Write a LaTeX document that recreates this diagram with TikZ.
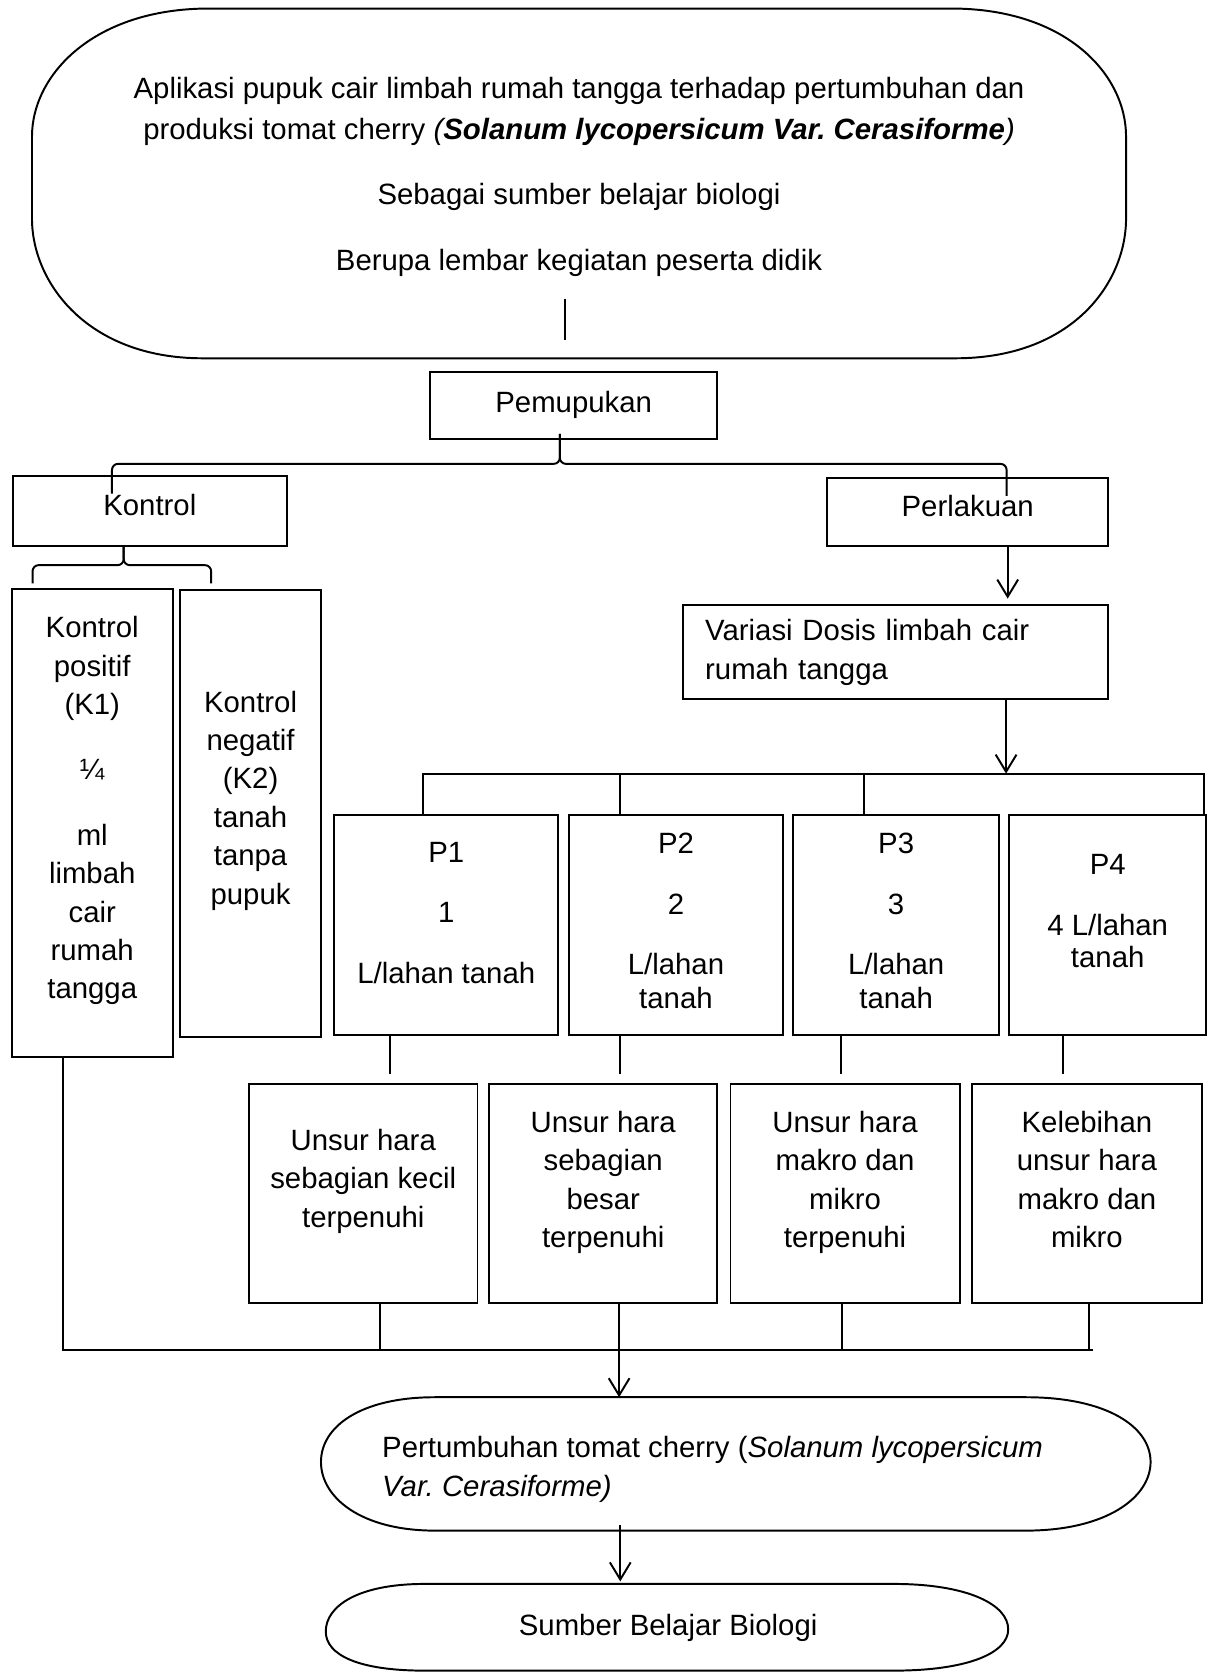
\documentclass[tikz,border=0pt]{standalone}
\usepackage{fontspec}
\setmainfont{Liberation Sans}
\usepackage{tikz}
\usetikzlibrary{arrows.meta}
\usetikzlibrary{positioning}
\frenchspacing

\newcommand{\ganjal}[1]{\rule[-#1]{0pt}{#1}}

\tikzset{
  garis/.style={line width=0.8pt},
  kotak/.style={draw, line width=0.8pt, inner sep=0pt, align=center},
  panah/.style={line width=0.8pt, -{Straight Barb[length=7pt,width=8.5pt]}},
}

\begin{document}
\begin{tikzpicture}[x=0.436pt,y=-0.436pt,font=\fontsize{12}{15.7}\selectfont]
        \useasboundingbox (0,0) rectangle (1138,1568);

        \draw[garis] (196,8) -- (892,8) .. controls (1000,8) and (1056,70) .. (1056,128) -- (1056,205) .. controls (1056,265) and (1006,336) .. (896,336) -- (190,336) .. controls (82,336) and (30,265) .. (30,205) -- (30,128) .. controls (30,70) and (88,8) .. (196,8) -- cycle;
        \node[align=center, font=\fontsize{12}{16.6}\selectfont] (judul) at (543,166) {Aplikasi pupuk cair limbah rumah tangga terhadap pertumbuhan dan\\ produksi tomat cherry \textit{(\textbf{Solanum lycopersicum Var. Cerasiforme})}\\[10.3pt] Sebagai sumber belajar biologi\\[10.3pt] Berupa lembar kegiatan peserta didik};
        \coordinate (garis-judul) at (530,280);
        \draw[garis] (garis-judul) -- ++(0,39);

        \node[kotak, minimum width=117.3pt, minimum height=27.5pt] (pupuk) at (538,380) {Pemupukan};
        \node[kotak, minimum width=112.1pt, minimum height=28.8pt] (kontrol) at (140.5,479) {Kontrol\ganjal{5pt}};
        \node[kotak, minimum width=114.9pt, minimum height=28pt] (perlakuan) at (907.5,480) {Perlakuan\ganjal{5pt}};

        \coordinate (kurung-atas) at (525,435);
        \coordinate (puncak-pupuk) at ([xshift=-13*0.436pt,yshift=2.4pt]pupuk.south);
        \coordinate (ujung-kontrol) at (105,463);
        \coordinate (ujung-perlakuan) at (944,465);
        \draw[garis, rounded corners=2.5pt] (puncak-pupuk) -- (kurung-atas) -| (ujung-kontrol);
        \draw[garis, rounded corners=2.5pt] (puncak-pupuk) -- (kurung-atas) -| (ujung-perlakuan);

        \node[kotak, minimum width=65.8pt, minimum height=191.7pt] (k1) at (86.5,771.8) {Kontrol\\positif\\(K1)\\[11pt]¼\\[11pt]ml\\limbah\\cair\\rumah\\tangga\ganjal{12.5pt}};
        \node[kotak, minimum width=57.6pt, minimum height=182.9pt] (k2) at (235,762.8) {Kontrol\\negatif\\(K2)\\tanah\\tanpa\\pupuk\ganjal{13pt}};

        \coordinate (kurung-bawah) at (116,530);
        \coordinate (ujung-k1) at (30.5,547);
        \coordinate (ujung-k2) at (198,547);
        \draw[garis, rounded corners=2.5pt] (kontrol.south -| kurung-bawah) -- (kurung-bawah) -| (ujung-k1);
        \draw[garis, rounded corners=2.5pt] (kontrol.south -| kurung-bawah) -- (kurung-bawah) -| (ujung-k2);

        \node[kotak, align=left, text width=155.8pt, inner xsep=9pt, minimum height=38.5pt] (variasi) at (840,611.7) {Variasi Dosis limbah cair\\rumah tangga};
        \draw[panah, shorten >=2.3pt] (perlakuan.south -| 945,0) -- (variasi.north -| 945,0);

        \node[kotak, minimum width=91.6pt, minimum height=90pt] (p1) at (418.5,867.8) {P1\\[9pt]1\\[9pt]L/lahan tanah\ganjal{10.4pt}};
        \node[kotak, minimum width=87.3pt, minimum height=90pt] (p2) at (633.9,867.8) {P2\\[9pt]2\\[9pt]L/lahan\\[-2pt]tanah\ganjal{3.7pt}};
        \node[kotak, minimum width=84.3pt, minimum height=90pt] (p3) at (840.4,867.8) {P3\\[9pt]3\\[9pt]L/lahan\\[-2pt]tanah\ganjal{3.7pt}};
        \node[kotak, minimum width=80.4pt, minimum height=90pt] (p4) at (1038.8,867.8) {P4\\[9.4pt]4 L/lahan\\[-2.5pt]tanah\ganjal{11.7pt}};

        \coordinate (bar-kiri) at (396.5,725.5);
        \coordinate (bar-kanan) at (1129,725.5);
        \draw[panah] (variasi.south -| 943.5,0) -- (bar-kiri -| 943.5,0);
        \draw[garis] (p1.north -| bar-kiri) -- (bar-kiri) -- (bar-kanan) -- (p4.north -| bar-kanan);
        \foreach \n/\x in {p2/581.7, p3/810.4}
            \draw[garis] (\n.north -| \x,0) -- (bar-kiri -| \x,0);

        \node[kotak, minimum width=93.4pt, minimum height=89.4pt] (u1) at (340.7,1119.5) {Unsur hara\\sebagian kecil\\terpenuhi\ganjal{12.6pt}};
        \node[kotak, minimum width=93.3pt, minimum height=89.4pt] (u2) at (565.7,1119.5) {Unsur hara\\sebagian\\besar\\terpenuhi\ganjal{11.8pt}};
        \node[kotak, minimum width=93.7pt, minimum height=89.4pt] (u3) at (792.5,1119.5) {Unsur hara\\makro dan\\mikro\\terpenuhi\ganjal{11.8pt}};
        \node[kotak, minimum width=94pt, minimum height=89.4pt] (u4) at (1019.3,1119.5) {Kelebihan\\unsur hara\\makro dan\\mikro\ganjal{11.8pt}};

        \foreach \n/\m/\x in {p1/u1/366, p2/u2/581.7, p3/u3/789, p4/u4/997}
            \draw[garis, shorten >=3.7pt] (\n.south -| \x,0) -- (\m.north -| \x,0);

        \coordinate (gabung-kiri) at (59.5,1266.4);
        \coordinate (gabung-kanan) at (1025.4,1266.4);
        \draw[garis] (k1.south -| gabung-kiri) -- (gabung-kiri) -- (gabung-kanan);
        \foreach \m/\x in {u1/356.3, u3/789.6, u4/1021}
            \draw[garis] (\m.south -| \x,0) -- (gabung-kiri -| \x,0);
        \coordinate (tumbuh-atas) at (580.6,1310.3);
        \draw[panah] (u2.south -| tumbuh-atas) -- (tumbuh-atas);

        \draw[garis] (408,1310.3) -- (962,1310.3) .. controls (1038,1310.3) and (1079,1338) .. (1079,1371) .. controls (1079,1404) and (1038,1435.4) .. (962,1435.4) -- (408,1435.4) .. controls (338,1435.4) and (301,1404) .. (301,1371) .. controls (301,1338) and (338,1310.3) .. (408,1310.3) -- cycle;
        \node[anchor=west, align=left, inner sep=0pt] (tumbuh) at (358,1378) {Pertumbuhan tomat cherry (\textit{Solanum lycopersicum}\\\textit{Var. Cerasiforme)}};

        \draw[garis] (398,1485.4) -- (838,1485.4) .. controls (908,1485.4) and (945.5,1505) .. (945.5,1528) .. controls (945.5,1550) and (908,1566.7) .. (838,1566.7) -- (398,1566.7) .. controls (336,1566.7) and (305.5,1552) .. (305.5,1530) .. controls (305.5,1506) and (336,1485.4) .. (398,1485.4) -- cycle;
        \node (sumber) at (626.6,1527) {Sumber Belajar Biologi};
        \coordinate (tumbuh-bawah) at (581.7,1430);
        \coordinate (sumber-atas) at (581.7,1483);
        \draw[panah] (tumbuh-bawah) -- (sumber-atas);
    \end{tikzpicture}
\end{document}
